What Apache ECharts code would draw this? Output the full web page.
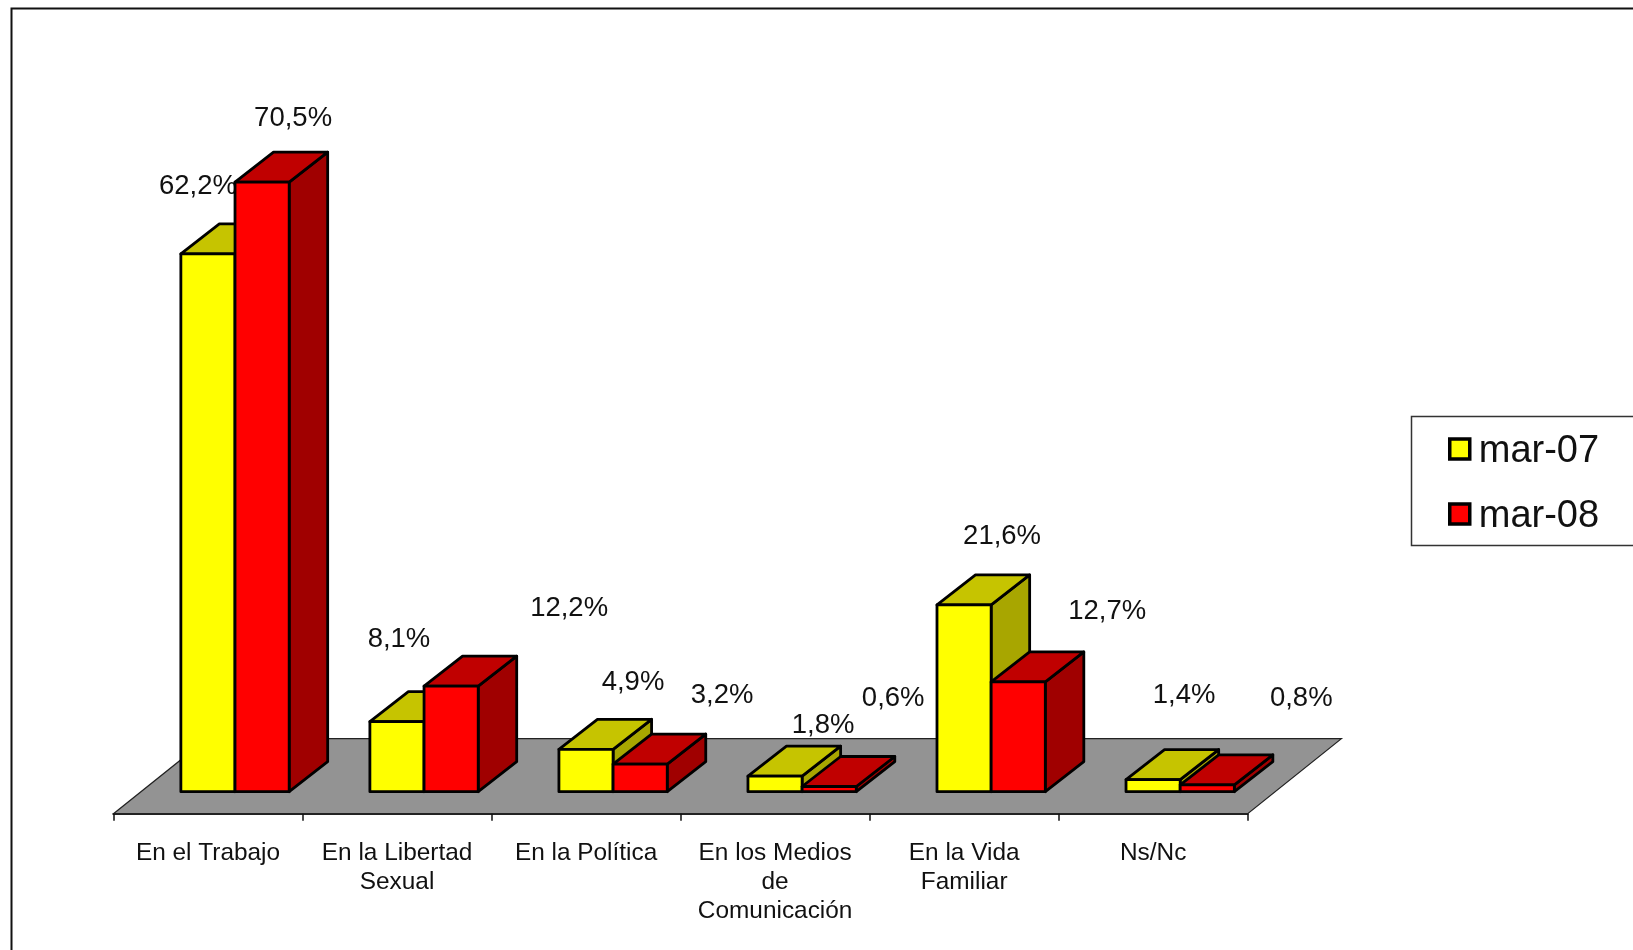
<!DOCTYPE html>
<html>
<head>
<meta charset="utf-8">
<style>html,body{margin:0;padding:0;background:#fff;overflow:hidden}#c{width:1633px;height:950px}</style>
<script src="https://cdn.jsdelivr.net/npm/echarts@6/dist/echarts.min.js"></script>
</head>
<body>
<div id="c"></div>
<script>
const categories = ['En el Trabajo','En la Libertad\nSexual','En la Política','En los Medios\nde\nComunicación','En la Vida\nFamiliar','Ns/Nc'];
const seriesNames = ['mar-07','mar-08'];
const mar07 = [62.2, 8.1, 4.9, 1.8, 21.6, 1.4];
const mar08 = [70.5, 12.2, 3.2, 0.6, 12.7, 0.8];
// hand-placed label nudges of the original chart (px from the top of each bar's front face)
const nudge07 = [[-10,-67],[2,-82],[47,-67],[48,-51],[38,-69],[31,-84]];
const nudge08 = [[31,-64],[118,-78],[82,-69],[64,-88],[89,-70],[94,-86]];

const SKEW = 27, AXIS_DROP = 22;       // bar base sits above the floor's front edge
const DX = 38.5, DY = 30;              // bar depth
const FDX = 93.7, FDY = 75;            // floor depth
const BAR_FRACTION = 0.2865;
const STROKE = {stroke:'#000', lineWidth:2.8, lineJoin:'round'};

function fmt(v){ return v.toFixed(1).replace('.',',') + '%'; }

function barRenderer(dir, front, top, side, nudges){
  return function(params, api){
    const i = api.value(0), v = api.value(1);
    const base = api.coord([i, 0]), head = api.coord([i, v]);
    const w = api.size([1, 0])[0] * BAR_FRACTION;
    const x0 = base[0] + SKEW + (dir < 0 ? -w : 0), x1 = x0 + w;
    const yb = base[1], yt = head[1];
    const poly = (pts, fill) => ({type:'polygon', shape:{points:pts}, style:Object.assign({fill}, STROKE)});
    return {type:'group', children:[
      poly([[x1,yt],[x1+DX,yt-DY],[x1+DX,yb-DY],[x1,yb]], side),
      poly([[x0,yt],[x0+DX,yt-DY],[x1+DX,yt-DY],[x1,yt]], top),
      poly([[x0,yt],[x1,yt],[x1,yb],[x0,yb]], front),
      {type:'text', style:{
        text:fmt(v), x:(x0+x1)/2 + nudges[i][0], y:yt + nudges[i][1],
        align:'center', verticalAlign:'middle', fill:'#111',
        font:'27.5px "Liberation Sans", Arial, sans-serif'}}
    ]};
  };
}

function floorRenderer(params, api){
  const size = api.size([1,0])[0];
  const a = api.coord([0,0]), b = api.coord([categories.length-1,0]);
  const xl = a[0]-size/2, xr = b[0]+size/2, y = a[1]+AXIS_DROP;
  return {type:'polygon', shape:{points:[[xl,y],[xr,y],[xr+FDX,y-FDY],[xl+FDX,y-FDY]]},
    style:{fill:'#939393', stroke:'#222', lineWidth:1.2}};
}

const chart = echarts.init(document.getElementById('c'));
chart.setOption({
  animation:false,
  backgroundColor:'#fff',
  grid:{left:113.5, width:1134.2, top:100, height:691.7, containLabel:false},
  xAxis:{type:'category', data:categories, offset:AXIS_DROP, z:5,
    axisLine:{onZero:false, lineStyle:{color:'#222', width:2}},
    axisTick:{show:true, length:7, lineStyle:{color:'#111', width:1.5}},
    axisLabel:{interval:0, margin:25, color:'#111', lineHeight:29,
      fontFamily:'"Liberation Sans", Arial, sans-serif', fontSize:24.4},
    splitLine:{show:false}},
  yAxis:{type:'value', min:0, max:80, show:false, splitLine:{show:false}},
  legend:{left:1443, top:422, orient:'vertical', itemWidth:20, itemHeight:20, itemGap:21,
    selectedMode:false, icon:'rect',
    formatter:'{a|{name}}',
    textStyle:{padding:[0,0,0,4], rich:{a:{fontFamily:'"Liberation Sans", Arial, sans-serif', fontSize:38, color:'#111', lineHeight:40, padding:[6,0,0,0]}}},
    data:[
      {name:seriesNames[0], itemStyle:{color:'#ffff00', borderColor:'#000', borderWidth:3.5}},
      {name:seriesNames[1], itemStyle:{color:'#ff0000', borderColor:'#000', borderWidth:3.5}}
    ]},
  graphic:[
    {type:'rect', z:-1, shape:{x:11.5,y:8.5,width:1700,height:1000}, style:{fill:'none',stroke:'#111',lineWidth:2}},
    {type:'rect', z:-1, shape:{x:1411.5,y:416.5,width:300,height:129}, style:{fill:'#fff',stroke:'#333',lineWidth:1.5}}
  ],
  series:[
    {type:'custom', name:'floor', silent:true, z:1, clip:false, renderItem:floorRenderer, data:[[0,0]], encode:{x:0,y:1}},
    {type:'custom', name:seriesNames[0], z:2, clip:false,
      itemStyle:{color:'#ffff00'},
      renderItem:barRenderer(-1,'#ffff00','#c6c400','#a8a600',nudge07),
      data:mar07.map((v,i)=>[i,v]), encode:{x:0,y:1}},
    {type:'custom', name:seriesNames[1], z:3, clip:false,
      itemStyle:{color:'#ff0000'},
      renderItem:barRenderer(1,'#ff0000','#c00000','#a00000',nudge08),
      data:mar08.map((v,i)=>[i,v]), encode:{x:0,y:1}}
  ]
});
</script>
</body>
</html>
